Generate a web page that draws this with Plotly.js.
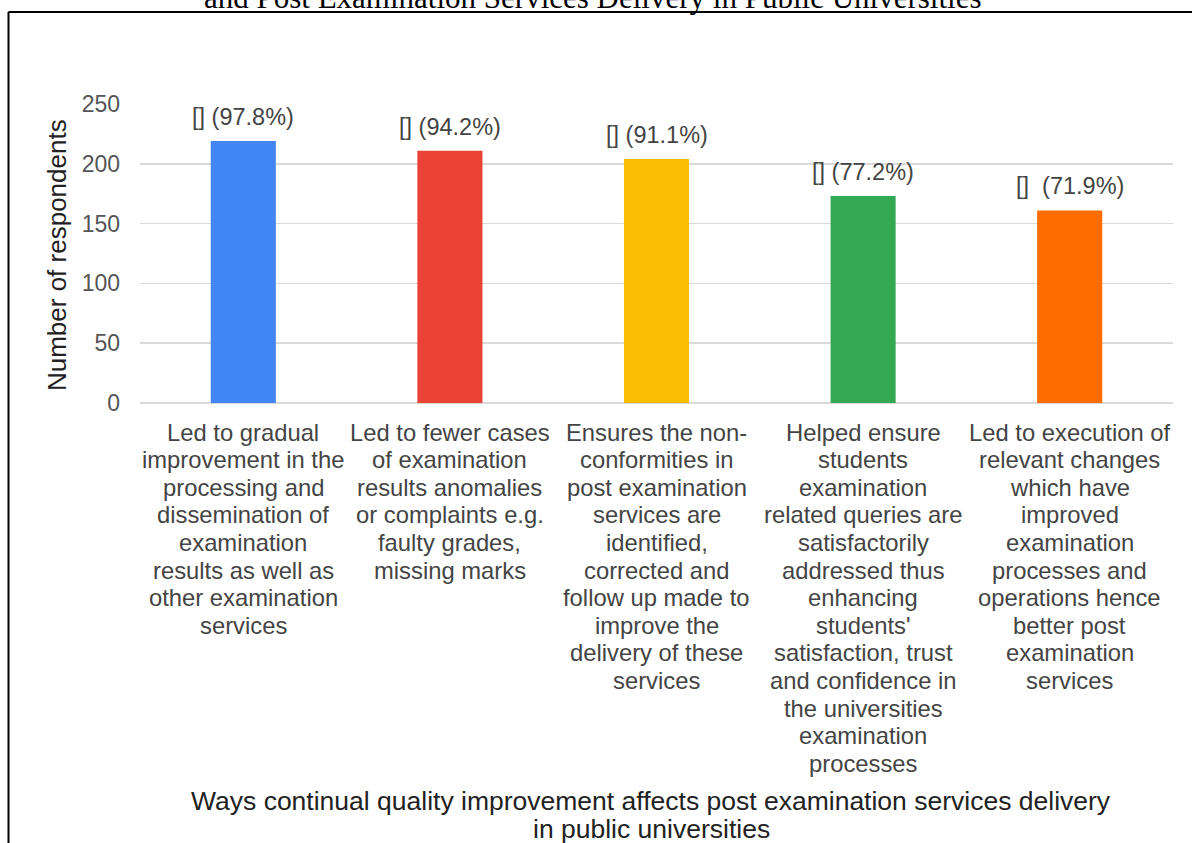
<!DOCTYPE html>
<html>
<head>
<meta charset="utf-8">
<script src="https://cdn.plot.ly/plotly-3.0.1.min.js"></script>
<style>
html,body{margin:0;padding:0;background:#fff;}
#chart{width:1192px;height:843px;}
</style>
</head>
<body>
<div id="chart"></div>
<script>
var categories = [
  "Led to gradual<br>improvement in the<br>processing and<br>dissemination of<br>examination<br>results as well as<br>other examination<br>services",
  "Led to fewer cases<br>of examination<br>results anomalies<br>or complaints e.g.<br>faulty grades,<br>missing marks",
  "Ensures the non-<br>conformities in<br>post examination<br>services are<br>identified,<br>corrected and<br>follow up made to<br>improve the<br>delivery of these<br>services",
  "Helped ensure<br>students<br>examination<br>related queries are<br>satisfactorily<br>addressed thus<br>enhancing<br>students'<br>satisfaction, trust<br>and confidence in<br>the universities<br>examination<br>processes",
  "Led to execution of<br>relevant changes<br>which have<br>improved<br>examination<br>processes and<br>operations hence<br>better post<br>examination<br>services"
];
var respondents = [219, 211, 204, 173, 161];
var barLabels = ["[] (97.8%)", "[] (94.2%)", "[] (91.1%)", "[] (77.2%)", "[]  (71.9%)"];
var barColors = ["#4285F4", "#EA4335", "#FBBC04", "#34A853", "#FF6D01"];
var yTicks = [0, 50, 100, 150, 200, 250];
var titleText = "and Post Examination Services Delivery in Public Universities";
var xTitleLines = ["Ways continual quality improvement affects post examination services delivery", "in public universities"];
var yTitle = "Number of respondents";

var font = "Liberation Sans, Arial, sans-serif";
var catLineGap = 27.6;

var trace = {
  type: "bar",
  x: categories,
  y: respondents,
  marker: {color: barColors},
  width: 0.315,
  hoverinfo: "none"
};

var annotations = [];
// value labels above bars
categories.forEach(function(c, i){
  annotations.push({
    x: c, y: respondents[i], xref: "x", yref: "y",
    text: barLabels[i], showarrow: false,
    yanchor: "middle", yshift: 24,
    font: {family: font, size: 23.5, color: "#444"}
  });
});
// category labels, one line each (tight line spacing)
categories.forEach(function(c){
  c.split("<br>").forEach(function(line, k){
    annotations.push({
      x: c, y: 0, xref: "x", yref: "y",
      text: line, showarrow: false,
      yanchor: "middle", yshift: -29 - k * catLineGap,
      font: {family: font, size: 23.8, color: "#444"}
    });
  });
});
// x axis title lines
xTitleLines.forEach(function(line, k){
  annotations.push({
    x: 0.495, y: 0, xref: "paper", yref: "paper",
    text: line, showarrow: false,
    yanchor: "middle", yshift: -398 - k * 28,
    font: {family: font, size: 26.5, color: "#222"}
  });
});
// y axis title
annotations.push({
  x: -0.0803, y: 0.495, xref: "paper", yref: "paper",
  text: yTitle, showarrow: false, textangle: -90,
  xanchor: "center", yanchor: "middle",
  font: {family: font, size: 26, color: "#222"}
});
// chart title (partially cut at top, as in the source)
annotations.push({
  x: 0.4385, y: 1.291, xref: "paper", yref: "paper",
  text: titleText, showarrow: false, yanchor: "bottom",
  font: {family: "Liberation Serif, Times New Roman, serif", size: 31, color: "#000"}
});

var layout = {
  width: 1192, height: 843,
  margin: {l: 140, r: 19, t: 104, b: 440},
  paper_bgcolor: "#fff", plot_bgcolor: "#fff",
  showlegend: false,
  xaxis: {
    type: "category",
    showticklabels: false,
    ticks: "", showline: false, showgrid: false,
    automargin: false
  },
  yaxis: {
    range: [0, 250], tickvals: yTicks,
    tickfont: {family: font, size: 23, color: "#555"},
    ticklabelstandoff: 19,
    gridcolor: "#d9d9d9", gridwidth: 1.5,
    zeroline: true, zerolinecolor: "#d9d9d9", zerolinewidth: 1.5,
    showline: false, ticks: "", ticklen: 0,
    automargin: false
  },
  annotations: annotations,
  shapes: [
    {type: "line", xref: "paper", yref: "paper", x0: -0.1273, x1: -0.1273, y0: -1.6, y1: 1.3077, line: {color: "#000", width: 2}},
    {type: "line", xref: "paper", yref: "paper", x0: -0.1273, x1: 1.1, y0: 1.3077, y1: 1.3077, line: {color: "#000", width: 2}}
  ]
};

Plotly.newPlot("chart", [trace], layout, {displayModeBar: false, staticPlot: true});
</script>
</body>
</html>
